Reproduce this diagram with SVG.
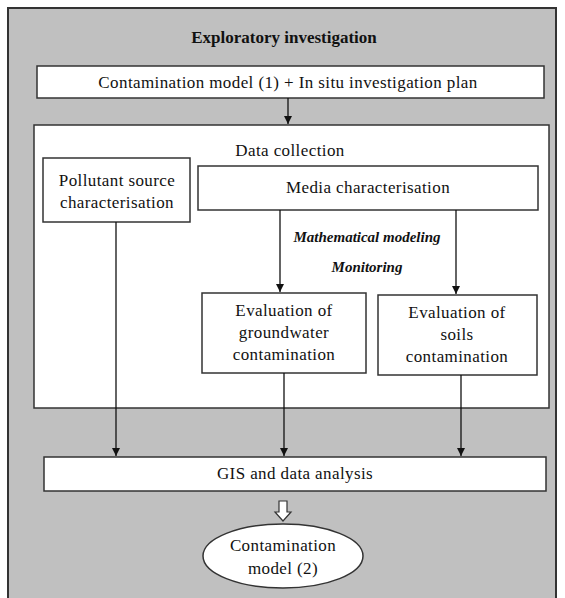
<svg xmlns="http://www.w3.org/2000/svg" width="565" height="598" viewBox="0 0 565 598">
<defs>
<style>
text{font-family:'Liberation Serif','DejaVu Serif','Times New Roman',serif;font-size:17px;fill:#111;text-anchor:middle;letter-spacing:0.4px}
.b{fill:#fff;stroke:#333;stroke-width:1.5}
.c{stroke:#111;stroke-width:1.3;fill:none}
.bi{font-weight:bold;font-style:italic;font-size:15px;letter-spacing:0}
</style>
<marker id="ah" markerWidth="10" markerHeight="10" refX="8" refY="5" orient="auto" markerUnits="userSpaceOnUse">
<path d="M0,1 L8,5 L0,9 Z" fill="#111"/>
</marker>
</defs>
<rect x="8" y="8" width="548" height="600" fill="#c0c0c0" stroke="#333" stroke-width="2"/>
<text font-family="Liberation Serif, serif" x="284" y="43" style="font-weight:bold;font-size:17px;letter-spacing:0">Exploratory investigation</text>
<g id="plan"><rect class="b" x="37" y="66" width="507" height="32"/><text font-family="Liberation Serif, serif" x="288" y="88">Contamination model (1) + In situ investigation plan</text></g>
<g id="datacollection"><rect class="b" x="34" y="125" width="515" height="283"/><text font-family="Liberation Serif, serif" x="290" y="156">Data collection</text></g>
<g id="pollutant"><rect class="b" x="43" y="158" width="147" height="64"/><text font-family="Liberation Serif, serif" x="117" y="186">Pollutant source</text><text font-family="Liberation Serif, serif" x="117" y="208">characterisation</text></g>
<g id="media"><rect class="b" x="198" y="166" width="340" height="44"/><text font-family="Liberation Serif, serif" x="368" y="193">Media characterisation</text></g>
<g id="methods"><text font-family="Liberation Serif, serif" class="bi" x="367" y="242">Mathematical modeling</text><text font-family="Liberation Serif, serif" class="bi" x="367" y="272">Monitoring</text></g>
<g id="groundwater"><rect class="b" x="202" y="293" width="164" height="80"/><text font-family="Liberation Serif, serif" x="284" y="316">Evaluation of</text><text font-family="Liberation Serif, serif" x="284" y="338">groundwater</text><text font-family="Liberation Serif, serif" x="284" y="360">contamination</text></g>
<g id="soils"><rect class="b" x="378" y="295" width="159" height="80"/><text font-family="Liberation Serif, serif" x="457" y="318">Evaluation of</text><text font-family="Liberation Serif, serif" x="457" y="340">soils</text><text font-family="Liberation Serif, serif" x="457" y="362">contamination</text></g>
<g id="gis"><rect class="b" x="44" y="457" width="502" height="34"/><text font-family="Liberation Serif, serif" x="295" y="479">GIS and data analysis</text></g>
<g id="model2"><ellipse cx="283" cy="556" rx="80" ry="32" fill="#fff" stroke="#333" stroke-width="1.5"/><text font-family="Liberation Serif, serif" x="283" y="551">Contamination</text><text font-family="Liberation Serif, serif" x="283" y="574">model (2)</text></g>
<g id="connectors">
<line class="c" x1="288" y1="98" x2="288" y2="124" marker-end="url(#ah)"/>
<line class="c" x1="280" y1="210" x2="280" y2="292" marker-end="url(#ah)"/>
<line class="c" x1="456" y1="210" x2="456" y2="294" marker-end="url(#ah)"/>
<line class="c" x1="116" y1="222" x2="116" y2="456" marker-end="url(#ah)"/>
<line class="c" x1="284" y1="373" x2="284" y2="456" marker-end="url(#ah)"/>
<line class="c" x1="461" y1="375" x2="461" y2="456" marker-end="url(#ah)"/>
<path d="M279,501 L287,501 L287,512 L291,512 L283,521 L275,512 L279,512 Z" fill="#fff" stroke="#333" stroke-width="1.2"/>
</g>
</svg>
